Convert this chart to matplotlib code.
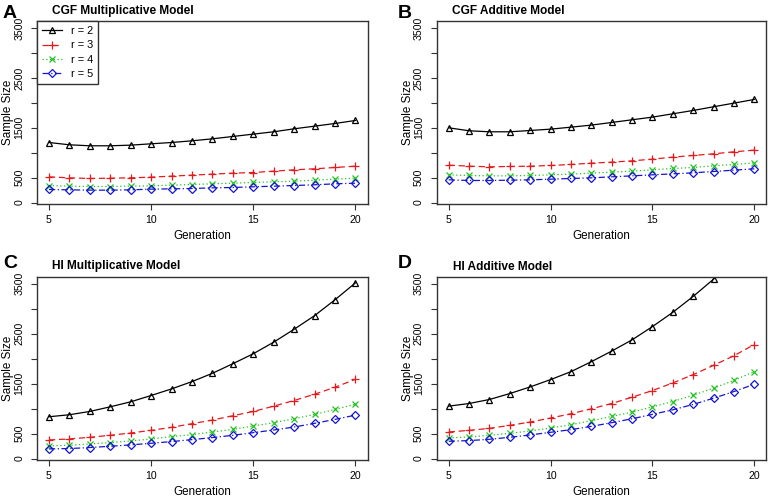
"""
Sample size vs. generation, four panels (CGF / HI, multiplicative / additive)
Output: out.png
"""
import matplotlib
matplotlib.use("Agg")
import matplotlib.pyplot as plt

plt.rcParams["font.family"] = ["Liberation Sans", "DejaVu Sans"]

generation = list(range(5, 21))
r_labels = ["r = 2", "r = 3", "r = 4", "r = 5"]

# --- A: CGF multiplicative ---
cgf_mult_r2 = [1204, 1158, 1138, 1138, 1151, 1178, 1204, 1238, 1278, 1325, 1372, 1419, 1479, 1532, 1586, 1646]
cgf_mult_r3 = [515, 495, 482, 488, 495, 509, 529, 549, 569, 589, 602, 629, 656, 676, 703, 729]
cgf_mult_r4 = [341, 328, 321, 321, 328, 335, 348, 361, 375, 388, 402, 415, 428, 448, 468, 489]
cgf_mult_r5 = [261, 254, 248, 248, 254, 268, 274, 281, 294, 301, 315, 328, 341, 355, 375, 388]

# --- B: CGF additive ---
cgf_add_r2 = [1499, 1439, 1419, 1419, 1445, 1472, 1512, 1553, 1606, 1660, 1713, 1780, 1847, 1921, 1994, 2068]
cgf_add_r3 = [750, 729, 716, 723, 729, 743, 763, 790, 810, 836, 870, 910, 944, 977, 1017, 1051]
cgf_add_r4 = [555, 542, 535, 535, 542, 555, 569, 589, 609, 629, 656, 683, 703, 736, 763, 796]
cgf_add_r5 = [455, 442, 442, 448, 455, 468, 482, 495, 515, 535, 555, 575, 596, 622, 649, 676]

# --- C: HI multiplicative ---
hi_mult_r2 = [835, 875, 941, 1034, 1134, 1260, 1392, 1538, 1704, 1896, 2095, 2327, 2585, 2857, 3175, 3513]
hi_mult_r3 = [371, 391, 424, 464, 510, 563, 623, 696, 769, 855, 941, 1047, 1160, 1286, 1425, 1584]
hi_mult_r4 = [252, 265, 292, 318, 351, 391, 438, 477, 530, 583, 650, 716, 795, 882, 981, 1087]
hi_mult_r5 = [192, 199, 219, 245, 272, 305, 338, 378, 418, 464, 517, 570, 630, 703, 782, 868]

# --- D: HI additive (r = 2 runs past the top of the axis) ---
hi_add_r2 = [1047, 1100, 1180, 1299, 1432, 1578, 1737, 1936, 2148, 2373, 2638, 2923, 3242, 3586, 3966, 4390]
hi_add_r3 = [530, 563, 603, 663, 729, 809, 895, 994, 1100, 1226, 1359, 1511, 1677, 1863, 2055, 2280]
hi_add_r4 = [411, 431, 464, 504, 550, 610, 676, 756, 842, 928, 1034, 1140, 1266, 1405, 1564, 1737]
hi_add_r5 = [345, 358, 384, 424, 471, 524, 577, 643, 716, 795, 882, 974, 1081, 1206, 1339, 1485]

panels = [
    ("A", "CGF Multiplicative Model", [cgf_mult_r2, cgf_mult_r3, cgf_mult_r4, cgf_mult_r5]),
    ("B", "CGF Additive Model", [cgf_add_r2, cgf_add_r3, cgf_add_r4, cgf_add_r5]),
    ("C", "HI Multiplicative Model", [hi_mult_r2, hi_mult_r3, hi_mult_r4, hi_mult_r5]),
    ("D", "HI Additive Model", [hi_add_r2, hi_add_r3, hi_add_r4, hi_add_r5]),
]

y_ticks = [0, 500, 1000, 1500, 2000, 2500, 3000, 3500]
y_tick_labels = ["0", "500", "", "1500", "", "2500", "", "3500"]
x_ticks = [5, 10, 15, 20]

# R-style pch / lty / col
styles = [
    dict(color="black", linestyle="-", marker="^", mfc="none", ms=4.5),
    dict(color="#E41A1C", linestyle=(0, (5, 3)), marker="+", ms=6),
    dict(color="#22C322", linestyle=(0, (1, 2)), marker="x", ms=4.5),
    dict(color="#1515D0", linestyle=(0, (5, 2, 1, 2)), marker="D", mfc="none", ms=3.6),
]

W, H = 770, 501
fig = plt.figure(figsize=(W / 100, H / 100), dpi=100)

# axes boxes in pixels: (left, top, right, bottom)
boxes = [(36.7, 21.3, 367.7, 204.3), (436.5, 21.3, 766.5, 204.3),
         (36.7, 276.7, 367.7, 460.3), (436.5, 276.7, 766.5, 460.3)]
title_pos = [(52, 11), (452, 11), (52, 266.5), (453, 266.5)]
letter_pos = [(3, 14), (398, 14), (3, 264), (398, 264)]

for i, (letter, title, series) in enumerate(panels):
    l, t, r, b = boxes[i]
    ax = fig.add_axes([l / W, 1 - b / H, (r - l) / W, (b - t) / H])
    for vals, lab, st in zip(series, r_labels, styles):
        ax.plot(generation, vals, lw=0.9, mew=0.9, label=lab, **st)

    ax.set_xlim(4.4, 20.6)
    ax.set_ylim(-36, 3636)
    ax.set_xticks(x_ticks)
    ax.set_yticks(y_ticks)
    ax.set_yticklabels(y_tick_labels, rotation=90, va="center")
    ax.tick_params(axis="both", labelsize=7.6, length=4, width=0.8, color="#333333")
    ax.tick_params(axis="y", pad=5)
    ax.tick_params(axis="x", pad=4)
    for sp in ax.spines.values():
        sp.set_linewidth(1.0)
        sp.set_color("#333333")

    # axis titles placed in pixels, like the R margins
    fig.text(((l + r) / 2) / W, 1 - (b + 32) / H, "Generation",
             fontsize=8.4, ha="center", va="center")
    fig.text((l - 28.4) / W, 1 - ((t + b) / 2) / H, "Sample Size",
             fontsize=8.4, rotation=90, ha="center", va="center")

    if i == 0:
        leg = ax.legend(loc="upper left", bbox_to_anchor=(0, 1), borderaxespad=0,
                        fancybox=False, edgecolor="#333333", fontsize=7.9,
                        handlelength=1.9, handletextpad=0.8, labelspacing=0.38,
                        borderpad=0.45, numpoints=1, framealpha=1)
        leg.get_frame().set_linewidth(1.0)

    fig.text(title_pos[i][0] / W, 1 - title_pos[i][1] / H, title,
             fontsize=8.6, fontweight="bold", ha="left", va="center")
    fig.text(letter_pos[i][0] / W, 1 - letter_pos[i][1] / H, letter,
             fontsize=14, fontweight="bold", ha="left", va="center")

fig.savefig("out.png", dpi=100, facecolor="white")
plt.close(fig)
